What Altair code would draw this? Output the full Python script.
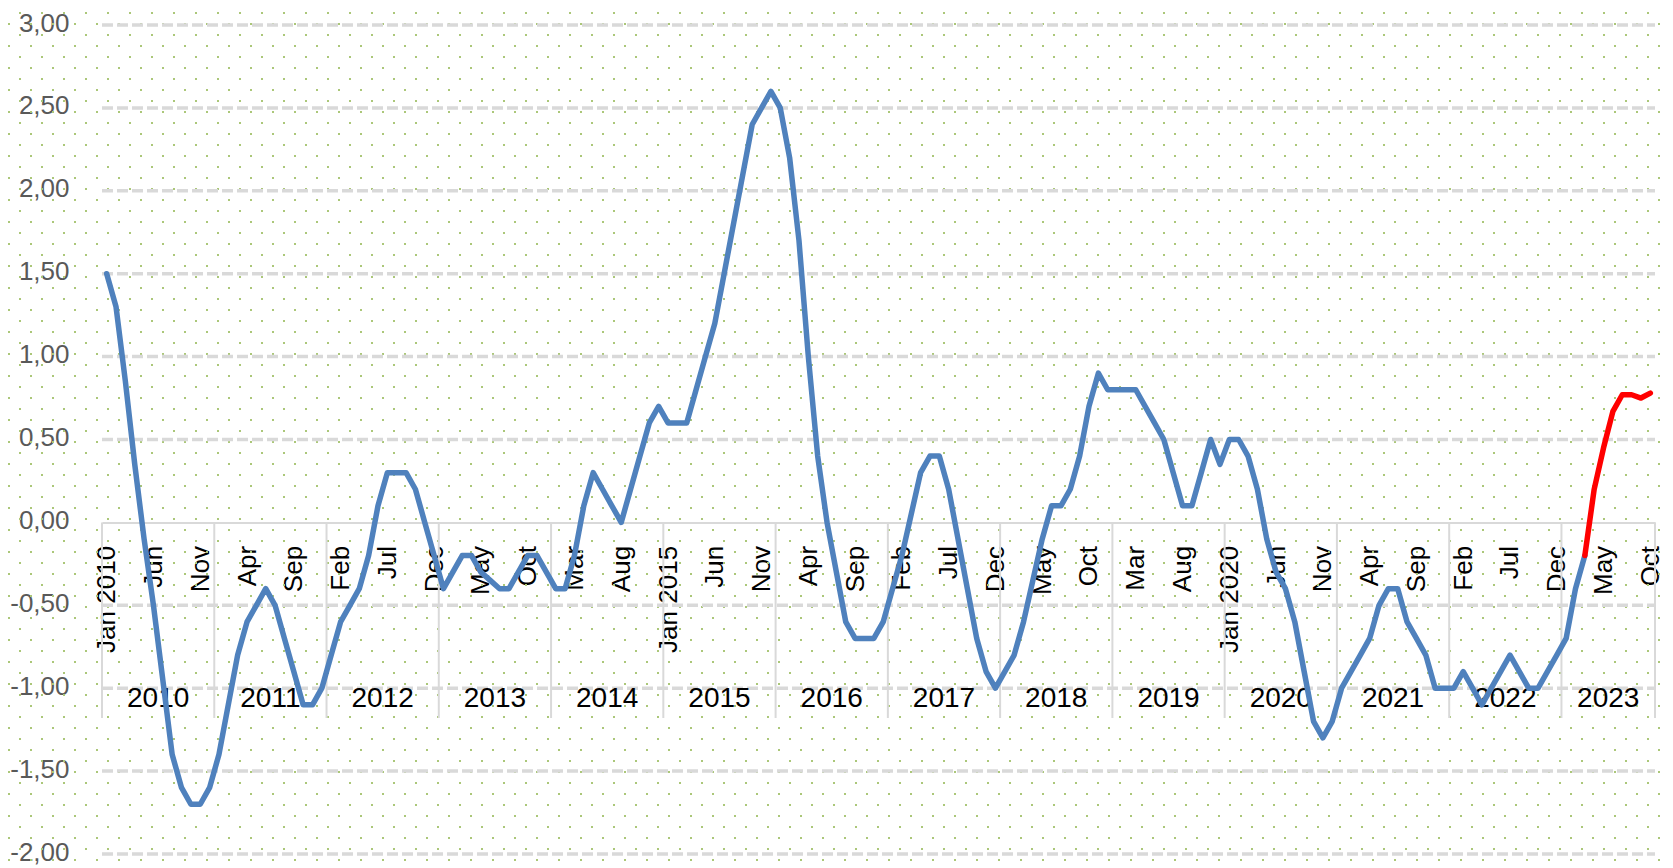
import altair as alt
import numpy as np
import pandas as pd

# ---------------- data ----------------
months = ["Jan", "Feb", "Mar", "Apr", "May", "Jun", "Jul", "Aug", "Sep", "Oct", "Nov", "Dec"]
start_year = 2010
years = list(range(2010, 2024))

# monthly values Jan 2010 .. Mar 2023 (blue series)
blue_values = [
    1.5, 1.3, 0.85, 0.35, -0.1, -0.5, -0.95, -1.4, -1.6, -1.7, -1.7, -1.6,      # 2010
    -1.4, -1.1, -0.8, -0.6, -0.5, -0.4, -0.5, -0.7, -0.9, -1.1, -1.1, -1.0,     # 2011
    -0.8, -0.6, -0.5, -0.4, -0.2, 0.1, 0.3, 0.3, 0.3, 0.2, 0.0, -0.2,           # 2012
    -0.4, -0.3, -0.2, -0.2, -0.3, -0.35, -0.4, -0.4, -0.3, -0.2, -0.2, -0.3,    # 2013
    -0.4, -0.4, -0.2, 0.1, 0.3, 0.2, 0.1, 0.0, 0.2, 0.4, 0.6, 0.7,              # 2014
    0.6, 0.6, 0.6, 0.8, 1.0, 1.2, 1.5, 1.8, 2.1, 2.4, 2.5, 2.6,                 # 2015
    2.5, 2.2, 1.7, 1.0, 0.4, 0.0, -0.3, -0.6, -0.7, -0.7, -0.7, -0.6,           # 2016
    -0.4, -0.2, 0.05, 0.3, 0.4, 0.4, 0.2, -0.1, -0.4, -0.7, -0.9, -1.0,         # 2017
    -0.9, -0.8, -0.6, -0.35, -0.1, 0.1, 0.1, 0.2, 0.4, 0.7, 0.9, 0.8,           # 2018
    0.8, 0.8, 0.8, 0.7, 0.6, 0.5, 0.3, 0.1, 0.1, 0.3, 0.5, 0.35,                # 2019
    0.5, 0.5, 0.4, 0.2, -0.1, -0.3, -0.4, -0.6, -0.9, -1.2, -1.3, -1.2,         # 2020
    -1.0, -0.9, -0.8, -0.7, -0.5, -0.4, -0.4, -0.6, -0.7, -0.8, -1.0, -1.0,     # 2021
    -1.0, -0.9, -1.0, -1.1, -1.0, -0.9, -0.8, -0.9, -1.0, -1.0, -0.9, -0.8,     # 2022
    -0.7, -0.4, -0.2,                                                           # 2023 Jan-Mar
]
# Mar 2023 .. Oct 2023 (red series)
red_values = [-0.2, 0.2, 0.45, 0.67, 0.77, 0.77, 0.75, 0.78]

y_ticks = [-2.0, -1.5, -1.0, -0.5, 0.0, 0.5, 1.0, 1.5, 2.0, 2.5, 3.0]

# ---------------- tables ----------------
n_blue = len(blue_values)
n_total = n_blue + len(red_values) - 1
blue_df = pd.DataFrame({"i": list(range(n_blue)), "v": blue_values})
red_df = pd.DataFrame({"i": list(range(n_blue - 1, n_total)), "v": red_values})

month_labels = []
for i in range(0, n_total, 5):
    lab = months[i % 12]
    if i % 12 == 0:
        lab = f"{lab} {start_year + i // 12}"
    month_labels.append(lab)
label_js = "[" + ",".join("'" + s + "'" for s in month_labels) + "]"

sep_pos = [12 * k - 0.5 for k in range(len(years))] + [n_total - 0.5]
sep_df = pd.DataFrame({"s": sep_pos, "zero": [0.0] * len(sep_pos)})

year_rows = []
for k, yr in enumerate(years):
    a = 12 * k - 0.5
    b = min(a + 12, n_total - 0.5)
    year_rows.append({"year": str(yr), "c": (a + b) / 2})
year_df = pd.DataFrame(year_rows)

grid_df = pd.DataFrame({"g": [t for t in y_ticks if t != 0.0]})

# ---------------- layout ----------------
W, H = 1553, 829
PAD = {"left": 94, "top": 17, "right": 10, "bottom": 14}
X0, X1 = -0.5, n_total - 0.5
Y0, Y1 = -2.0, 3.0

# background dot pattern (decoration): checkerboard lattice of small dots on an
# 11px grid over the whole canvas, expressed in data units so it shares the scales
cols = np.arange(0, 152)
rows = np.arange(1, 80)
ca, rb = np.meshgrid(cols, rows)
keep = ((ca + rb) % 2 == 0)
gx = (-93.0 + 11.0 * ca)[keep]
gy = (-23.0 + 11.0 * rb)[keep]
inside = (gx <= W + PAD["right"]) & (gy <= H + PAD["bottom"])
dots_df = pd.DataFrame({
    "dx": X0 + gx[inside] * (X1 - X0) / W,
    "dy": Y1 - gy[inside] * (Y1 - Y0) / H,
})

# ---------------- chart ----------------
FONT = "Liberation Sans"
x_scale = alt.Scale(domain=[X0, X1], nice=False, zero=False)
y_scale = alt.Scale(domain=[Y0, Y1], nice=False, zero=False)
zero_px = H * (Y1 - 0) / (Y1 - Y0)

x_axis = alt.Axis(
    values=list(range(0, n_total, 5)),
    labelExpr=f"{label_js}[round(datum.value / 5)]",
    labelAngle=270, labelAlign="right", labelBaseline="middle",
    labelPadding=23, ticks=False, tickSize=0, grid=False,
    domain=True, domainColor="#d9d9d9", domainWidth=2,
    offset=zero_px - H,
    labelFont=FONT, labelFontSize=26, labelColor="#000000",
    labelOverlap=False, labelFlush=False, labelBound=False, title=None,
)
y_axis = alt.Axis(
    values=y_ticks,
    labelExpr="replace(replace(format(datum.value, '.2f'), '.', ','), '\u2212', '-')",
    domain=False, ticks=False, tickSize=0, grid=False, labelPadding=33,
    labelOffset=-2,
    labelFont=FONT, labelFontSize=26, labelColor="#595959",
    labelOverlap=False, labelBound=False, title=None,
)

dots = alt.Chart(dots_df).mark_square(size=4, color="#abc779", opacity=1).encode(
    x=alt.X("dx:Q", scale=x_scale, axis=x_axis),
    y=alt.Y("dy:Q", scale=y_scale, axis=y_axis),
)

grid = alt.Chart(grid_df).mark_rule(color="#d9d9d9", strokeWidth=3.5, strokeDash=[11, 4]).encode(
    x=alt.value(0), x2=alt.value(W),
    y=alt.Y("g:Q", scale=y_scale, axis=y_axis),
)

seps = alt.Chart(sep_df).mark_rule(color="#d9d9d9", strokeWidth=2).encode(
    x=alt.X("s:Q", scale=x_scale, axis=x_axis),
    y=alt.Y("zero:Q", scale=y_scale, axis=y_axis),
    y2=alt.value(693),
)

year_text = alt.Chart(year_df).mark_text(
    font=FONT, fontSize=28, color="#000000", baseline="middle", align="center"
).encode(
    x=alt.X("c:Q", scale=x_scale, axis=x_axis),
    y=alt.value(674),
    text="year:N",
)

blue_line = alt.Chart(blue_df).mark_line(
    color="#4f81bd", strokeWidth=5.5, strokeJoin="round", strokeCap="round"
).encode(
    x=alt.X("i:Q", scale=x_scale, axis=x_axis),
    y=alt.Y("v:Q", scale=y_scale, axis=y_axis),
)

red_line = alt.Chart(red_df).mark_line(
    color="#ff0000", strokeWidth=5.5, strokeJoin="round", strokeCap="round"
).encode(
    x=alt.X("i:Q", scale=x_scale, axis=x_axis),
    y=alt.Y("v:Q", scale=y_scale, axis=y_axis),
)

chart = alt.layer(dots, grid, seps, year_text, blue_line, red_line).properties(
    width=W, height=H,
    autosize=alt.AutoSizeParams(type="none"),
    padding=PAD,
    background="#ffffff",
).configure_view(stroke=None)

chart.save("out.html", embed_options={"renderer": "svg", "actions": False})
